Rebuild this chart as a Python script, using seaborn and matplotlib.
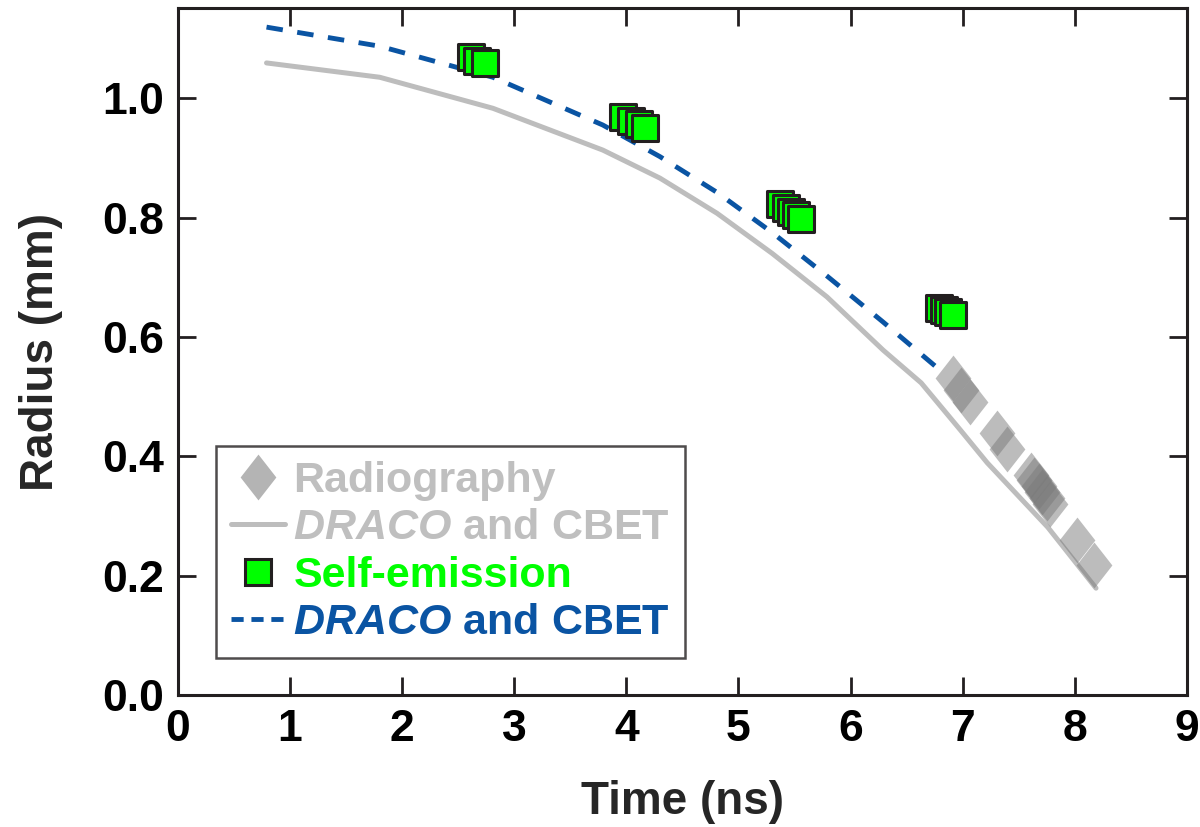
import numpy as np
import pandas as pd
import matplotlib
matplotlib.use("Agg")
import matplotlib.pyplot as plt
from matplotlib.path import Path
from matplotlib.lines import Line2D
import seaborn as sns

# --- data -------------------------------------------------------------
# DRACO + CBET simulation, radiography comparison (gray)
sim_gray_t = [0.79, 1.80, 2.81, 3.79, 4.30, 4.81, 5.30, 5.79, 6.29, 6.63, 6.98, 7.22, 7.76, 8.19]
sim_gray_r = [1.059, 1.035, 0.983, 0.913, 0.866, 0.807, 0.740, 0.667, 0.578, 0.523, 0.444, 0.389, 0.281, 0.179]

# DRACO + CBET simulation, self-emission comparison (blue dashed)
sim_blue_t = [0.79, 1.80, 2.81, 3.79, 4.30, 4.81, 5.30, 5.79, 6.29, 6.80]
sim_blue_r = [1.119, 1.087, 1.035, 0.955, 0.902, 0.842, 0.775, 0.702, 0.625, 0.544]

# self-emission measurements
emis_t = [2.61, 2.67, 2.74,
          3.97, 4.04, 4.11, 4.17,
          5.37, 5.42, 5.47, 5.51, 5.56,
          6.79, 6.83, 6.87, 6.91]
emis_r = [1.069, 1.062, 1.059,
          0.968, 0.962, 0.956, 0.950,
          0.822, 0.816, 0.810, 0.804, 0.798,
          0.649, 0.645, 0.641, 0.637]

# radiography measurements
radio_t = [6.91, 6.99, 7.07,
           7.31, 7.40,
           7.61, 7.64, 7.68, 7.71, 7.75, 7.78,
           8.02, 8.17]
radio_r = [0.531, 0.511, 0.491,
           0.439, 0.412,
           0.369, 0.360, 0.350, 0.340, 0.330, 0.320,
           0.260, 0.218]

x_ticks = [0, 1, 2, 3, 4, 5, 6, 7, 8, 9]
y_ticks = [0.0, 0.2, 0.4, 0.6, 0.8, 1.0]

# --- style ------------------------------------------------------------
sns.set_style("ticks")
plt.rcParams["font.family"] = ["Liberation Sans", "DejaVu Sans"]
plt.rcParams["font.weight"] = "bold"
plt.rcParams["mathtext.fontset"] = "custom"
plt.rcParams["mathtext.rm"] = "Liberation Sans:bold"
plt.rcParams["mathtext.it"] = "Liberation Sans:italic:bold"
plt.rcParams["mathtext.bf"] = "Liberation Sans:bold"

INK = "#231f20"
GRAY_LINE = "#bdbdbd"
BLUE = "#0a54a3"
GREEN = "#00ff00"
GRAY_TEXT = "#bfbfbf"

diamond = Path([(0, 1), (0.78, 0), (0, -1), (-0.78, 0), (0, 1)],
               [Path.MOVETO, Path.LINETO, Path.LINETO, Path.LINETO, Path.CLOSEPOLY])

fig = plt.figure(figsize=(12, 8.27), dpi=100)
ax = fig.add_axes([0.1483, 0.1596, 0.8407, 0.8307])

gray_df = pd.DataFrame({"t": sim_gray_t, "r": sim_gray_r})
blue_df = pd.DataFrame({"t": sim_blue_t, "r": sim_blue_r})
emis_df = pd.DataFrame({"t": emis_t, "r": emis_r})
radio_df = pd.DataFrame({"t": radio_t, "r": radio_r})

sns.lineplot(data=gray_df, x="t", y="r", ax=ax, color=GRAY_LINE, linewidth=3.6,
             sort=False, estimator=None, zorder=2)
sns.lineplot(data=blue_df, x="t", y="r", ax=ax, color=BLUE, linewidth=3.5,
             sort=False, estimator=None, dashes=False, zorder=3)
ax.lines[-1].set_dashes((3.4, 3.0))

sns.scatterplot(data=radio_df, x="t", y="r", ax=ax, marker=diamond, s=1090,
                color="#7a7a7a", alpha=0.5, linewidth=0, zorder=4)
sns.scatterplot(data=emis_df, x="t", y="r", ax=ax, marker="s", s=370,
                color=GREEN, edgecolor=INK, linewidth=2.2, zorder=5)

ax.set_xlim(0, 9)
ax.set_ylim(0, 1.151)
ax.set_xticks(x_ticks)
ax.set_yticks(y_ticks)
ax.set_yticklabels([f"{v:.1f}" for v in y_ticks])
ax.tick_params(direction="in", length=13, width=2, color=INK, labelsize=32,
               top=True, right=True, pad=10, labelcolor="black")
for s in ax.spines.values():
    s.set_linewidth(2.2)
    s.set_color(INK)

ax.set_xlabel("Time (ns)", fontsize=33, fontweight="bold", labelpad=22)
ax.set_ylabel("Radius (mm)", fontsize=33, fontweight="bold", labelpad=28)

handles = [
    Line2D([], [], linestyle="none", marker=diamond, markersize=33,
           markerfacecolor="#b4b4b4", markeredgewidth=0),
    Line2D([], [], color=GRAY_LINE, linewidth=3.6),
    Line2D([], [], linestyle="none", marker="s", markersize=19,
           markerfacecolor=GREEN, markeredgecolor=INK, markeredgewidth=2.2),
    Line2D([], [], color=BLUE, linewidth=3.5, dashes=(2.5, 1.6)),
]
labels = ["Radiography", r"$\mathit{DRACO}$ and CBET", "Self-emission",
          r"$\mathit{DRACO}$ and CBET"]
leg = ax.legend(handles, labels, loc="lower left", bbox_to_anchor=(0.0377, 0.0539),
                borderaxespad=0, fontsize=31, frameon=True, fancybox=False,
                handlelength=1.25, handletextpad=0.2, labelspacing=0.17,
                borderpad=0.35)
leg.get_frame().set_edgecolor(INK)
leg.get_frame().set_linewidth(1.8)
for txt, col in zip(leg.get_texts(), [GRAY_TEXT, GRAY_TEXT, GREEN, BLUE]):
    txt.set_color(col)
    txt.set_fontweight("bold")

fig.savefig("out.png", dpi=100)
